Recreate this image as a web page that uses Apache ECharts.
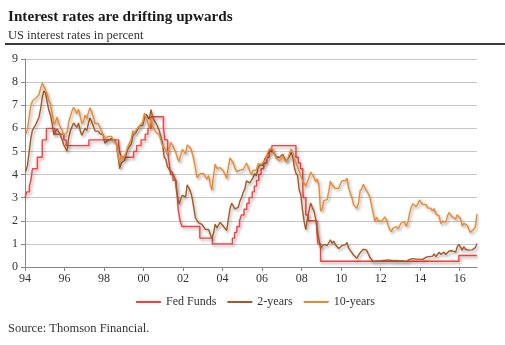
<!DOCTYPE html>
<html>
<head>
<meta charset="utf-8">
<script src="https://cdn.jsdelivr.net/npm/echarts@6/dist/echarts.min.js"></script>
<style>
html,body{margin:0;padding:0;background:#fff;}
#c{width:505px;height:345px;}
</style>
</head>
<body>
<div id="c"></div>
<script>
// Monthly series starting January 1994 (percent)
const startYear = 1994;
const twoYear = [
4.14,4.40,4.98,5.54,5.91,5.91,6.16,6.22,6.48,6.85,7.34,7.62,
7.52,7.11,6.78,6.57,6.17,5.72,5.78,5.98,5.85,5.70,5.52,5.29,
5.15,5.01,5.58,5.88,6.06,6.23,6.23,6.04,6.23,5.91,5.70,5.78,
6.01,5.90,6.22,6.45,6.28,6.09,5.89,5.94,5.88,5.77,5.71,5.72,
5.36,5.42,5.49,5.56,5.55,5.51,5.46,5.34,4.81,4.25,4.51,4.52,
4.61,4.90,5.11,5.03,5.33,5.70,5.68,5.84,5.80,6.10,6.03,6.13,
6.44,6.61,6.53,6.40,6.81,6.48,6.34,6.23,6.08,5.91,5.88,5.35,
4.76,4.66,4.34,4.23,4.26,4.08,4.04,3.76,3.12,2.73,2.78,3.11,
3.03,3.02,3.56,3.42,3.26,2.99,2.56,2.13,2.00,1.91,1.92,1.84,
1.74,1.63,1.57,1.62,1.42,1.23,1.47,1.86,1.69,1.75,1.93,1.91,
1.76,1.74,1.58,2.07,2.53,2.76,2.64,2.51,2.53,2.58,2.85,3.01,
3.22,3.38,3.73,3.65,3.64,3.64,3.87,4.04,3.95,4.27,4.42,4.40,
4.40,4.67,4.73,4.89,4.97,5.12,5.12,4.90,4.77,4.80,4.74,4.67,
4.88,4.85,4.57,4.67,4.77,4.96,4.82,4.34,4.06,3.97,3.34,3.12,
2.48,1.97,1.62,2.05,2.45,2.77,2.57,2.42,2.08,1.61,1.21,0.82,
0.81,0.98,0.93,0.93,0.92,1.18,1.02,1.12,0.96,0.95,0.80,0.87,
0.93,0.86,0.96,1.06,0.83,0.72,0.62,0.52,0.48,0.38,0.45,0.62,
0.61,0.77,0.70,0.73,0.56,0.41,0.41,0.23,0.20,0.26,0.25,0.26,
0.24,0.28,0.34,0.29,0.29,0.29,0.25,0.27,0.26,0.28,0.27,0.26,
0.27,0.27,0.26,0.23,0.25,0.33,0.34,0.36,0.40,0.34,0.30,0.34,
0.39,0.33,0.40,0.42,0.39,0.45,0.51,0.47,0.57,0.45,0.53,0.64,
0.55,0.62,0.64,0.54,0.61,0.69,0.67,0.70,0.71,0.64,0.88,0.98,
0.90,0.73,0.88,0.77,0.82,0.73,0.67,0.74,0.77,0.84,1.02
];
const tenYear = [
5.75,5.97,6.48,6.97,7.18,7.10,7.30,7.24,7.46,7.74,7.96,7.81,
7.78,7.47,7.20,7.06,6.63,6.17,6.28,6.49,6.20,6.04,5.93,5.71,
5.65,5.81,6.27,6.51,6.74,6.91,6.87,6.64,6.83,6.53,6.20,6.30,
6.58,6.42,6.69,6.89,6.71,6.49,6.22,6.30,6.21,6.03,5.88,5.81,
5.54,5.57,5.65,5.64,5.65,5.50,5.46,5.34,4.81,4.53,4.83,4.65,
4.72,5.00,5.23,5.18,5.54,5.90,5.79,5.94,5.92,6.11,6.03,6.28,
6.66,6.52,6.26,5.99,6.44,6.10,6.05,5.83,5.80,5.74,5.72,5.24,
5.16,5.10,4.89,5.14,5.39,5.28,5.24,4.97,4.73,4.57,4.65,5.09,
5.04,4.91,5.28,5.21,5.16,4.93,4.65,4.26,3.87,3.94,4.05,4.03,
4.05,3.90,3.81,3.96,3.57,3.33,3.98,4.45,4.27,4.29,4.30,4.27,
4.15,4.08,3.83,4.35,4.72,4.73,4.50,4.28,4.13,4.10,4.19,4.23,
4.22,4.17,4.50,4.34,4.14,4.00,4.18,4.26,4.20,4.46,4.54,4.47,
4.42,4.57,4.72,4.99,5.11,5.11,5.09,4.88,4.72,4.73,4.60,4.56,
4.76,4.72,4.56,4.69,4.75,5.10,5.00,4.67,4.52,4.53,4.15,4.10,
3.74,3.74,3.51,3.68,3.88,4.10,4.01,3.89,3.69,3.81,3.53,2.42,
2.52,2.87,2.82,2.93,3.29,3.72,3.56,3.59,3.40,3.39,3.40,3.59,
3.73,3.69,3.73,3.85,3.42,3.20,3.01,2.70,2.65,2.54,2.76,3.29,
3.39,3.58,3.41,3.46,3.17,3.00,3.00,2.30,1.98,2.15,2.01,1.98,
1.97,1.97,2.17,2.05,1.80,1.62,1.53,1.68,1.72,1.75,1.65,1.72,
1.91,1.98,1.96,1.76,1.93,2.30,2.58,2.74,2.81,2.62,2.72,2.90,
2.86,2.71,2.72,2.71,2.56,2.60,2.54,2.42,2.53,2.30,2.33,2.21,
1.88,1.98,2.04,1.94,2.20,2.36,2.32,2.17,2.17,2.07,2.26,2.24,
2.09,1.78,1.89,1.81,1.81,1.64,1.50,1.56,1.63,1.76,2.30
];
// Fed Funds target rate: change dates and new levels
const fedDates = [
'1994-01-01','1994-02-04','1994-03-22','1994-04-18','1994-05-17','1994-08-16','1994-11-15',
'1995-02-01','1995-07-06','1995-12-19','1996-01-31','1997-03-25','1998-09-29','1998-10-15',
'1998-11-17','1999-06-30','1999-08-24','1999-11-16','2000-02-02','2000-03-21','2000-05-16',
'2001-01-03','2001-01-31','2001-03-20','2001-04-18','2001-05-15','2001-06-27','2001-08-21',
'2001-09-17','2001-10-02','2001-11-06','2001-12-11','2002-11-06','2003-06-25','2004-06-30',
'2004-08-10','2004-09-21','2004-11-10','2004-12-14','2005-02-02','2005-03-22','2005-05-03',
'2005-06-30','2005-08-09','2005-09-20','2005-11-01','2005-12-13','2006-01-31','2006-03-28',
'2006-05-10','2006-06-29','2007-09-18','2007-10-31','2007-12-11','2008-01-22','2008-01-30',
'2008-03-18','2008-04-30','2008-10-08','2008-10-29','2008-12-16','2015-12-16','2016-11-15'
];
const fedRates = [
3.00,3.25,3.50,3.75,4.25,4.75,5.50,
6.00,5.75,5.50,5.25,5.50,5.25,5.00,
4.75,5.00,5.25,5.50,5.75,6.00,6.50,
6.00,5.50,5.00,4.50,4.00,3.75,3.50,
3.00,2.50,2.00,1.75,1.25,1.00,1.25,
1.50,1.75,2.00,2.25,2.50,2.75,3.00,
3.25,3.50,3.75,4.00,4.25,4.50,4.75,
5.00,5.25,4.75,4.50,4.25,3.50,3.00,
2.25,2.00,1.50,1.00,0.25,0.50,0.50
];
const xTickYears = [1994,1996,1998,2000,2002,2004,2006,2008,2010,2012,2014,2016];
const seriesNames = ['Fed Funds','2-years','10-years'];

function dec(s){const p=s.split('-').map(Number);return p[0]+(p[1]-1)/12+(p[2]-1)/365;}
function monthly(arr){return arr.map((v,i)=>[startYear+(i+0.5)/12, v]);}

const serif = '"Liberation Serif","Times New Roman",serif';
const shadow = {shadowColor:'rgba(0,0,0,0.35)',shadowBlur:3,shadowOffsetX:1.5,shadowOffsetY:2};
const colors = ['#ff3b3b','#a65a25','#ee8a2e'];

const chart = echarts.init(document.getElementById('c'), null, {renderer:'canvas'});
chart.setOption({
  animation:false,
  backgroundColor:'#fff',
  color:colors,
  title:[
    {text:'Interest rates are drifting upwards',left:3,top:5,
     textStyle:{fontFamily:serif,fontWeight:'bold',fontSize:15.2,color:'#1a1a1a'}},
    {text:'US interest rates in percent',left:3,top:24,
     textStyle:{fontFamily:serif,fontWeight:'normal',fontSize:12.5,color:'#333'}},
    {text:'Source: Thomson Financial.',left:3,top:317,
     textStyle:{fontFamily:serif,fontWeight:'normal',fontSize:12.5,color:'#333'}}
  ],
  graphic:[{type:'rect',shape:{x:5,y:43,width:500,height:2},style:{fill:'#3a3a3a'}}],
  legend:{
    data:seriesNames,left:131,top:291,itemWidth:25,itemHeight:2,icon:'rect',itemGap:11,
    textStyle:{fontFamily:serif,fontSize:12,color:'#333'}
  },
  grid:{left:25,right:28,top:59,bottom:78,containLabel:false},
  xAxis:{
    type:'value',min:1994,max:2016.875,interval:2,
    axisLine:{lineStyle:{color:'#888',width:1}},
    axisTick:{show:true,length:4,lineStyle:{color:'#888'},customValues:xTickYears},
    axisLabel:{customValues:xTickYears,margin:6,fontFamily:serif,fontSize:12,color:'#333',
      formatter:v=>String(Math.round(v)%100).padStart(2,'0')},
    splitLine:{show:false}
  },
  yAxis:{
    type:'value',min:0,max:9,interval:1,
    axisLine:{show:true,lineStyle:{color:'#888',width:1}},
    axisTick:{show:true,length:4,lineStyle:{color:'#888'}},
    axisLabel:{margin:7,fontFamily:serif,fontSize:12,color:'#333'},
    splitLine:{lineStyle:{color:'#c8c8c8',width:1.2}}
  },
  series:[
    {name:'Fed Funds',type:'line',step:'end',symbol:'none',
     data:fedDates.map((d,i)=>[dec(d),fedRates[i]]),
     lineStyle:Object.assign({width:1.4,color:colors[0]},shadow),z:3},
    {name:'2-years',type:'line',symbol:'none',data:monthly(twoYear),
     lineStyle:Object.assign({width:1.4,color:colors[1]},shadow),z:4},
    {name:'10-years',type:'line',symbol:'none',data:monthly(tenYear),
     lineStyle:Object.assign({width:1.4,color:colors[2]},shadow),z:5}
  ]
});
</script>
</body>
</html>
